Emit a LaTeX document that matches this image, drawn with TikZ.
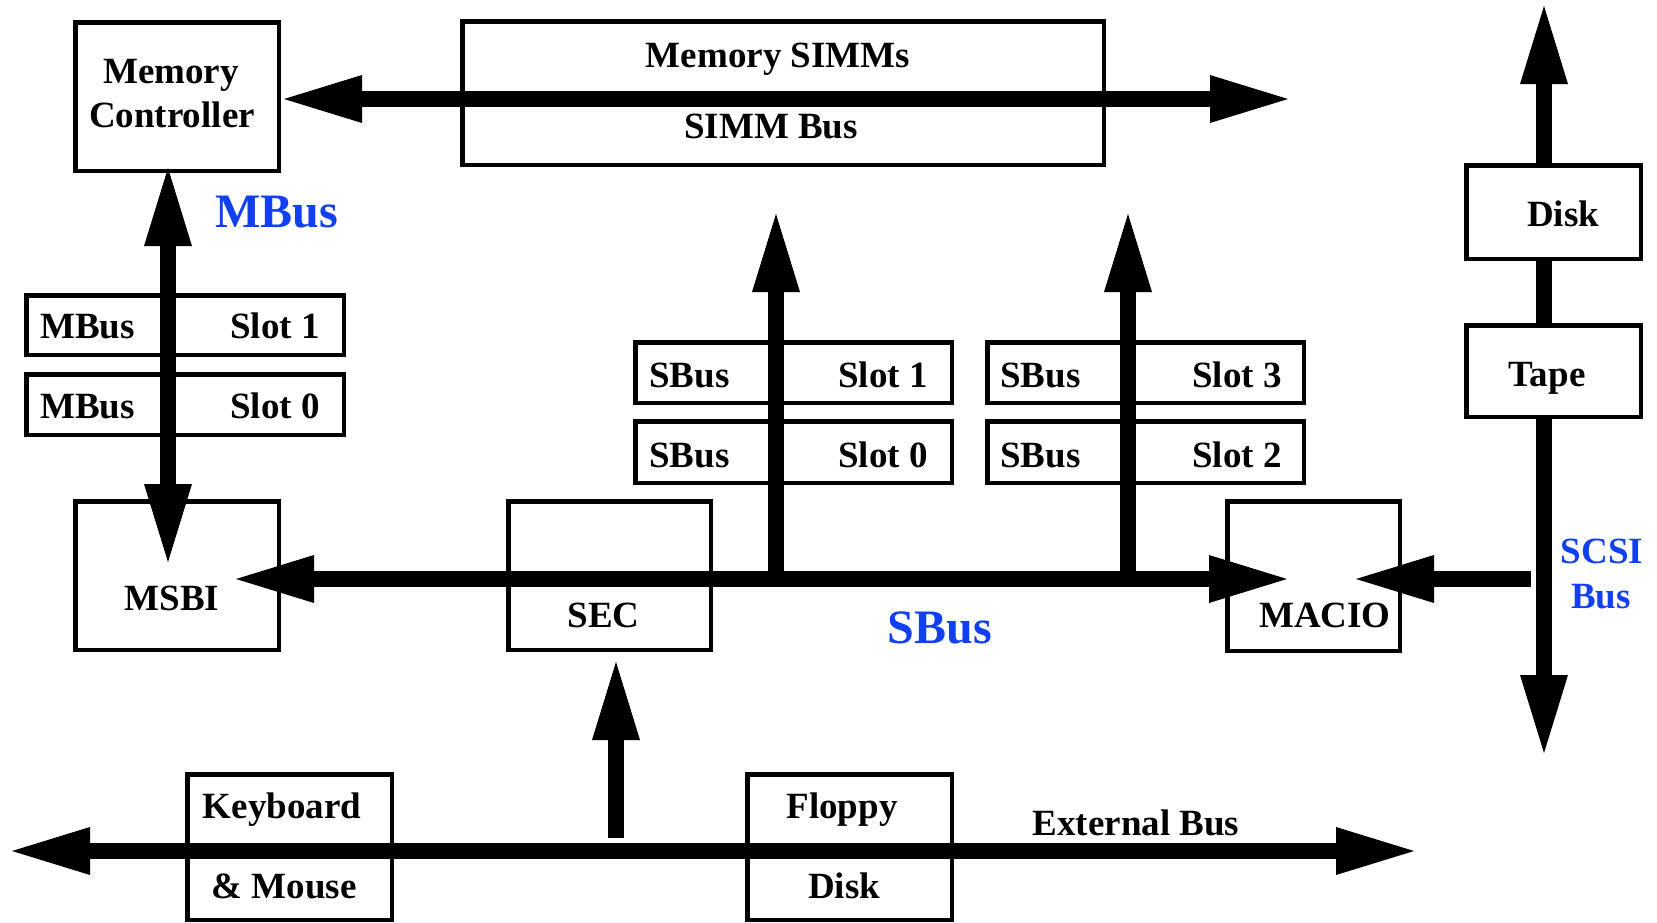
\documentclass[tikz,border=0pt]{standalone}
\usepackage{fontspec}
\setmainfont{Liberation Serif}
\usetikzlibrary{arrows.meta}
\definecolor{busblue}{RGB}{16,64,240}
\begin{document}
\begin{tikzpicture}[x=1pt,y=-1pt,
  box/.style={draw, line width=4.5pt, fill=white, inner sep=0pt, outer sep=0pt},
  lbl/.style={font=\fontsize{37}{41}\selectfont\bfseries, inner sep=0pt},
  buslbl/.style={font=\fontsize{48}{52}\selectfont\bfseries, text=busblue, inner sep=0pt, anchor=base},
  scsilbl/.style={font=\fontsize{37}{41}\selectfont\bfseries, text=busblue, inner sep=0pt, anchor=base},
  head/.tip={Triangle[length=78pt,width=48pt,line width=0pt]},
  bus/.style={line width=16pt, -head},
  dbus/.style={line width=16pt, head-head},
]
\useasboundingbox (0,0) rectangle (1657,922);

% ---- boxes crossed by the buses ----
\node[box, minimum width=203.5pt, minimum height=148.5pt] (mc)     at (177,96.5) {};
\node[box, minimum width=641.5pt, minimum height=143.5pt] (simm)   at (783,93) {};
\node[box, minimum width=317.5pt, minimum height=59.5pt]  (mslot1) at (185,325) {};
\node[box, minimum width=317.5pt, minimum height=60.5pt]  (mslot0) at (185,404.5) {};
\node[box, minimum width=203.5pt, minimum height=148.5pt] (msbi)   at (177,575.5) {};
\node[box, minimum width=202.5pt, minimum height=148.5pt] (sec)    at (609.5,575.5) {};
\node[box, minimum width=316.5pt, minimum height=60.5pt]  (sslot1) at (793.5,372.5) {};
\node[box, minimum width=316.5pt, minimum height=61.5pt]  (sslot0) at (793.5,452) {};
\node[box, minimum width=316.5pt, minimum height=60.5pt]  (sslot3) at (1145.5,372.5) {};
\node[box, minimum width=316.5pt, minimum height=61.5pt]  (sslot2) at (1145.5,452) {};
\node[box, minimum width=172.5pt, minimum height=149.5pt] (macio)  at (1313.5,576) {};
\node[box, minimum width=204.5pt, minimum height=145.5pt] (kbd)    at (289.5,847) {};
\node[box, minimum width=204.5pt, minimum height=145.5pt] (floppy) at (849.5,847) {};

% ---- bus end points ----
\coordinate (simmL) at (284,99);   \coordinate (simmR) at (1288,99);
\coordinate (mbusT) at (168,168);  \coordinate (mbusB) at (168,562);
\coordinate (sbusL) at (236,579);  \coordinate (sbusR) at (1287,579);
\coordinate (brA)   at (776,579);  \coordinate (brAt)  at (776,214);
\coordinate (brB)   at (1128,579); \coordinate (brBt)  at (1128,214);
\coordinate (extUp) at (616,838);  \coordinate (secIn) at (616,662);
\coordinate (extL)  at (12,851);   \coordinate (extR)  at (1414,851);
\coordinate (scsiT) at (1544,6);   \coordinate (scsiB) at (1544,753);
\coordinate (scsiM) at (1531,579); \coordinate (macIn) at (1356,579);

% ---- buses ----
\draw[dbus] (simmL) -- (simmR);
\draw[dbus] (mbusT) -- (mbusB);
\draw[dbus] (sbusL) -- (sbusR);
\draw[bus]  (brA) -- (brAt);
\draw[bus]  (brB) -- (brBt);
\draw[bus]  (extUp) -- (secIn);
\draw[dbus] (extL) -- (extR);
\draw[dbus] (scsiT) -- (scsiB);
\draw[bus]  (scsiM) -- (macIn);

% ---- SCSI devices sit on top of their bus ----
\node[box, minimum width=174.5pt, minimum height=93.5pt] (disk) at (1553.5,212) {};
\node[box, minimum width=174.5pt, minimum height=91.5pt] (tape) at (1553.5,371) {};

% ---- box labels ----
\node[lbl, anchor=base] (tMem)   at (171,83)  {Memory};
\node[lbl, anchor=base] (tCtl)   at (172,127) {Controller};
\node[lbl, anchor=base] (tSimm)  at (778,67)  {Memory SIMMs};
\node[lbl, anchor=base] (tSbus)  at (771,138) {SIMM Bus};

\node[lbl, anchor=base west] (tm1a) at (40,338)  {MBus};
\node[lbl, anchor=base east] (tm1b) at (320,338) {Slot 1};
\node[lbl, anchor=base west] (tm0a) at (40,418)  {MBus};
\node[lbl, anchor=base east] (tm0b) at (320,418) {Slot 0};

\node[lbl, anchor=base west] (ts1a) at (649,387)  {SBus};
\node[lbl, anchor=base east] (ts1b) at (928,387)  {Slot 1};
\node[lbl, anchor=base west] (ts0a) at (649,467)  {SBus};
\node[lbl, anchor=base east] (ts0b) at (928,467)  {Slot 0};
\node[lbl, anchor=base west] (ts3a) at (1000,387) {SBus};
\node[lbl, anchor=base east] (ts3b) at (1282,387) {Slot 3};
\node[lbl, anchor=base west] (ts2a) at (1000,467) {SBus};
\node[lbl, anchor=base east] (ts2b) at (1282,467) {Slot 2};

\node[lbl, anchor=base] (tMsbi)  at (172,610)  {MSBI};
\node[lbl, anchor=base] (tSec)   at (603.5,627) {SEC};
\node[lbl, anchor=base] (tMacio) at (1325,627) {MACIO};
\node[lbl, anchor=base] (tDisk)  at (1563,226) {Disk};
\node[lbl, anchor=base] (tTape)  at (1547,386) {Tape};
\node[lbl, anchor=base] (tKbd)   at (282,818)  {Keyboard};
\node[lbl, anchor=base] (tMouse) at (284,898)  {\& Mouse};
\node[lbl, anchor=base] (tFlp)   at (842,818)  {Floppy};
\node[lbl, anchor=base] (tFdsk)  at (844,898)  {Disk};
\node[lbl, anchor=base] (tExt)   at (1136,835) {External Bus};

% ---- bus names ----
\node[buslbl]  (nMbus) at (277,227) {MBus};
\node[buslbl]  (nSbus) at (940,643) {SBus};
\node[scsilbl] (nScsi) at (1602,563) {SCSI};
\node[scsilbl] (nSbus2) at (1601,608) {Bus};
\end{tikzpicture}
\end{document}
